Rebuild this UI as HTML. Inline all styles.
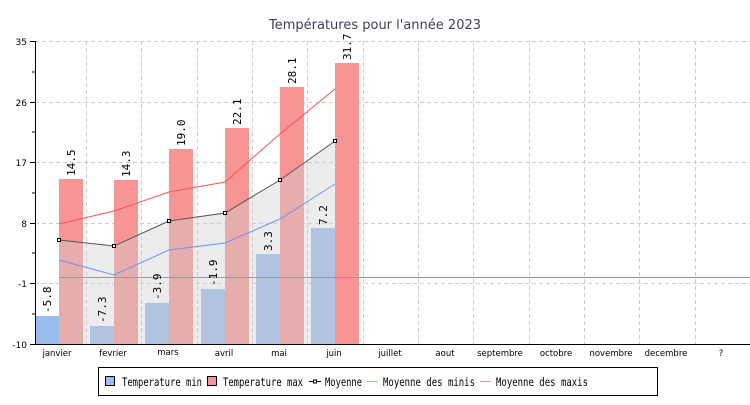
<!DOCTYPE html><html><head><style>body{margin:0;background:#fff}svg{font-family:"DejaVu Sans","Liberation Sans",sans-serif}</style></head><body>
<svg width="750" height="400" xmlns="http://www.w3.org/2000/svg">
<rect width="750" height="400" fill="#fff"/>
<text x="375" y="29" text-anchor="middle" font-size="13" fill="#3a3f5c">Températures pour l'année 2023</text>
<g stroke="#ccc" stroke-dasharray="4,3" stroke-width="1">
<line x1="35" y1="41.5" x2="750" y2="41.5"/><line x1="35" y1="102.5" x2="750" y2="102.5"/><line x1="35" y1="162.5" x2="750" y2="162.5"/><line x1="35" y1="223.5" x2="750" y2="223.5"/><line x1="35" y1="283.5" x2="750" y2="283.5"/>
<line x1="86.5" y1="41" x2="86.5" y2="344"/><line x1="141.5" y1="41" x2="141.5" y2="344"/><line x1="197.5" y1="41" x2="197.5" y2="344"/><line x1="252.5" y1="41" x2="252.5" y2="344"/><line x1="307.5" y1="41" x2="307.5" y2="344"/><line x1="363.5" y1="41" x2="363.5" y2="344"/><line x1="418.5" y1="41" x2="418.5" y2="344"/><line x1="473.5" y1="41" x2="473.5" y2="344"/><line x1="529.5" y1="41" x2="529.5" y2="344"/><line x1="584.5" y1="41" x2="584.5" y2="344"/><line x1="639.5" y1="41" x2="639.5" y2="344"/><line x1="695.5" y1="41" x2="695.5" y2="344"/>
</g>
<g fill="#9bbcef">
<rect x="35" y="316" width="24" height="28"/><rect x="90" y="326" width="24" height="18"/><rect x="145" y="303" width="24" height="41"/><rect x="201" y="289" width="24" height="55"/><rect x="256" y="254" width="24" height="90"/><rect x="311" y="228" width="24" height="116"/>
</g>
<g fill="#f79595">
<rect x="59" y="179" width="24" height="165"/><rect x="114" y="180" width="24" height="164"/><rect x="169" y="149" width="24" height="195"/><rect x="225" y="128" width="24" height="216"/><rect x="280" y="87" width="24" height="257"/><rect x="335" y="63" width="24" height="281"/>
</g>
<polygon points="59,240 114,246 169,221 225,213 280,180 335,141 335,344 59,344" fill="#d0d0d0" fill-opacity="0.4"/>
<line x1="59" y1="277.5" x2="750" y2="277.5" stroke="#999"/>
<polyline points="59,260 114,275 169,250 225,243 280,219 335,184" fill="none" stroke="#6d96e8" stroke-width="1"/>
<polyline points="59,224 114,211 169,192 225,182 280,134 335,89" fill="none" stroke="#f25555" stroke-width="1"/>
<polyline points="59,240 114,246 169,221 225,213 280,180 335,141" fill="none" stroke="#555" stroke-width="1"/>
<g fill="#fff" stroke="#000"><rect x="57.5" y="238.5" width="3" height="3"/><rect x="112.5" y="244.5" width="3" height="3"/><rect x="167.5" y="219.5" width="3" height="3"/><rect x="223.5" y="211.5" width="3" height="3"/><rect x="278.5" y="178.5" width="3" height="3"/><rect x="333.5" y="139.5" width="3" height="3"/></g>
<g font-size="11" fill="#000" font-family="DejaVu Sans Mono,Liberation Mono,monospace">
<text transform="translate(51,313) rotate(-90)">-5.8</text><text transform="translate(106,323) rotate(-90)">-7.3</text><text transform="translate(161,300) rotate(-90)">-3.9</text><text transform="translate(217,286) rotate(-90)">-1.9</text><text transform="translate(272,251) rotate(-90)">3.3</text><text transform="translate(327,225) rotate(-90)">7.2</text>
<text transform="translate(75,176) rotate(-90)">14.5</text><text transform="translate(130,177) rotate(-90)">14.3</text><text transform="translate(185,146) rotate(-90)">19.0</text><text transform="translate(241,125) rotate(-90)">22.1</text><text transform="translate(296,84) rotate(-90)">28.1</text><text transform="translate(351,60) rotate(-90)">31.7</text>
</g>
<g stroke="#000"><line x1="35.5" y1="41" x2="35.5" y2="345"/><line x1="35" y1="344.5" x2="750" y2="344.5"/>
<line x1="30" y1="41.5" x2="35" y2="41.5"/><line x1="30" y1="102.5" x2="35" y2="102.5"/><line x1="30" y1="162.5" x2="35" y2="162.5"/><line x1="30" y1="223.5" x2="35" y2="223.5"/><line x1="30" y1="283.5" x2="35" y2="283.5"/><line x1="30" y1="344.5" x2="35" y2="344.5"/>
<line x1="32" y1="72" x2="35" y2="72"/><line x1="32" y1="132" x2="35" y2="132"/><line x1="32" y1="193" x2="35" y2="193"/><line x1="32" y1="253" x2="35" y2="253"/><line x1="32" y1="314" x2="35" y2="314"/>
</g>
<g font-size="9" fill="#000" text-anchor="end"><text x="27" y="45">35</text><text x="27" y="106">26</text><text x="27" y="166">17</text><text x="27" y="227">8</text><text x="27" y="287">-1</text><text x="27" y="348">-10</text></g>
<g font-size="8.5" fill="#000" text-anchor="middle"><text x="57" y="356">janvier</text><text x="113" y="356">fevrier</text><text x="168" y="355">mars</text><text x="224" y="356">avril</text><text x="279" y="356">mai</text><text x="334" y="356">juin</text><text x="390" y="356">juillet</text><text x="445" y="356">aout</text><text x="500" y="356">septembre</text><text x="556" y="356">octobre</text><text x="611" y="356">novembre</text><text x="666" y="356">decembre</text><text x="721" y="356">?</text></g>
<rect x="98.5" y="367.5" width="559" height="28" fill="#fff" stroke="#000"/>
<g font-size="11.5" fill="#000" font-family="DejaVu Sans Mono,Liberation Mono,monospace">
<rect x="105.5" y="376.5" width="9" height="9" fill="#9bbcef" stroke="#000"/><text x="122" y="386" textLength="80" lengthAdjust="spacingAndGlyphs">Temperature min</text>
<rect x="207.5" y="376.5" width="9" height="9" fill="#f79595" stroke="#000"/><text x="223" y="386" textLength="80" lengthAdjust="spacingAndGlyphs">Temperature max</text>
<line x1="309" y1="381.5" x2="321" y2="381.5" stroke="#000"/><rect x="313.5" y="380" width="3" height="3" fill="#fff" stroke="#000"/><text x="325" y="386" textLength="37" lengthAdjust="spacingAndGlyphs">Moyenne</text>
<line x1="367" y1="381.5" x2="378" y2="381.5" stroke="#9bbcef"/><text x="383" y="386" textLength="92" lengthAdjust="spacingAndGlyphs">Moyenne des minis</text>
<line x1="480" y1="381.5" x2="491" y2="381.5" stroke="#f79595"/><text x="496" y="386" textLength="92" lengthAdjust="spacingAndGlyphs">Moyenne des maxis</text>
</g>
</svg></body></html>
